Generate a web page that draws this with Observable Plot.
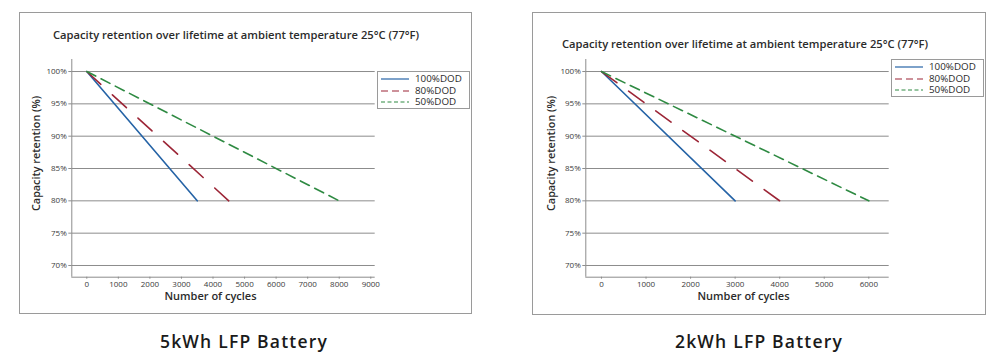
<!DOCTYPE html>
<html>
<head>
<meta charset="utf-8">
<script src="https://cdn.jsdelivr.net/npm/d3@7"></script>
<script src="https://cdn.jsdelivr.net/npm/@observablehq/plot@0.6"></script>
<style>
  html, body { margin: 0; padding: 0; background: #fff; }
  body { width: 1003px; height: 356px; position: relative; overflow: hidden; font-family: "Open Sans", "DejaVu Sans", sans-serif; }
  .panel { position: absolute; border: 1.5px solid #9a9a9a; box-sizing: border-box; }
  .title { position: absolute; font-size: 11.2px; font-weight: 600; color: #2b2b2b; white-space: nowrap; line-height: 1; }
  .caption { position: absolute; font-size: 17.5px; font-weight: 600; letter-spacing: 1.2px; color: #1a1a1a; white-space: nowrap; line-height: 1; transform: translateX(-50%); }
  .legend { position: absolute; border: 1.5px solid #9a9a9a; box-sizing: border-box; background: #fff; padding: 1px 0 0 3px; }
  .legend .row { display: flex; align-items: center; height: 11.7px; line-height: 11.7px; font-size: 9.8px; color: #2b2b2b; }
  .legend svg { margin-right: 6px; flex: none; }
  .plotwrap { position: absolute; }
  .plotwrap svg { overflow: visible; }
</style>
</head>
<body>
<script>
// ---- data ----
const seriesNames = ["100%DOD", "80%DOD", "50%DOD"];
const startCycles = 0;
const startRetention = 100;
const endRetention = 80;
const endCycles5kWh = [3500, 4500, 8000];
const endCycles2kWh = [3000, 4000, 6000];
const yTickValues = [70, 75, 80, 85, 90, 95, 100];
const xTicks5kWh = [0, 1000, 2000, 3000, 4000, 5000, 6000, 7000, 8000, 9000];
const xTicks2kWh = [0, 1000, 2000, 3000, 4000, 5000, 6000];
const chartTitle = "Capacity retention over lifetime at ambient temperature 25°C (77°F)";
const yLabel = "Capacity retention (%)";
const xLabel = "Number of cycles";
const captions = ["5kWh LFP Battery", "2kWh LFP Battery"];

// ---- styles ----
const seriesColors = ["#2563a6", "#9c2536", "#2e8a42"];
const legendDash = [null, "7,4", "4,2.5"];

function buildRows(endCycles) {
  return seriesNames.map((name, i) => [
    {series: name, cycles: startCycles, retention: startRetention},
    {series: name, cycles: endCycles[i], retention: endRetention}
  ]);
}

function makeChart(cfg) {
  const rows = buildRows(cfg.endCycles);
  const yDomain = [68.19, 101.86];
  const marks = [
    Plot.gridY(yTickValues, {stroke: "#8c8c8c", strokeOpacity: 1, strokeWidth: 1}),
    Plot.axisY(yTickValues, {tickFormat: d => d + "%", tickSize: 3, tickPadding: 2, fontSize: 8, fill: "#3a3a3a", stroke: "#8c8c8c", label: null}),
    Plot.axisX(cfg.xTicks, {tickFormat: d => String(d), tickSize: 2, tickPadding: 2, fontSize: 8, fill: "#3a3a3a", stroke: "#8c8c8c", label: null}),
    Plot.ruleX([cfg.xDomain[0]], {stroke: "#8c8c8c", strokeWidth: 1}),
    Plot.ruleY([yDomain[0]], {stroke: "#8c8c8c", strokeWidth: 1}),
    ...rows.map((r, i) => Plot.line(r, {
      x: "cycles", y: "retention",
      stroke: seriesColors[i], strokeWidth: 1.6,
      strokeDasharray: cfg.dash[i] || undefined
    })),
    Plot.text([yLabel], {frameAnchor: "left", textAnchor: "middle", rotate: -90, dx: cfg.yLabelDx, dy: -15, fontSize: 10.8, fontWeight: 600, fill: "#2b2b2b"}),
    Plot.text([xLabel], {frameAnchor: "bottom", textAnchor: "middle", dx: cfg.xLabelDx, dy: 23, fontSize: 11, fontWeight: 600, fill: "#2b2b2b"})
  ];
  return Plot.plot({
    width: cfg.width,
    height: cfg.height,
    marginLeft: cfg.marginLeft,
    marginRight: cfg.marginRight,
    marginTop: cfg.marginTop,
    marginBottom: cfg.marginBottom,
    x: {domain: cfg.xDomain, axis: null},
    y: {domain: yDomain, axis: null},
    style: {background: "transparent", fontFamily: "'Open Sans', 'DejaVu Sans', sans-serif", overflow: "visible"},
    marks
  });
}

function addDiv(cls, css, text) {
  const d = document.createElement("div");
  d.className = cls;
  Object.assign(d.style, css);
  if (text != null) d.textContent = text;
  document.body.appendChild(d);
  return d;
}

function addLegend(css) {
  const box = addDiv("legend", css);
  seriesNames.forEach((name, i) => {
    const row = document.createElement("div");
    row.className = "row";
    const ns = "http://www.w3.org/2000/svg";
    const s = document.createElementNS(ns, "svg");
    s.setAttribute("width", 28); s.setAttribute("height", 6);
    const l = document.createElementNS(ns, "line");
    l.setAttribute("x1", 0); l.setAttribute("x2", 28); l.setAttribute("y1", 3); l.setAttribute("y2", 3);
    l.setAttribute("stroke", seriesColors[i]); l.setAttribute("stroke-width", 1.2);
    if (legendDash[i]) l.setAttribute("stroke-dasharray", legendDash[i]);
    s.appendChild(l);
    row.appendChild(s);
    const t = document.createElement("span");
    t.textContent = name;
    row.appendChild(t);
    box.appendChild(row);
  });
}

const panels = [
  {
    box: {left: "19px", top: "12px", width: "453px", height: "302px"},
    title: {left: "53px", top: "29px"},
    legend: {left: "377px", top: "71px", width: "93px", height: "38px"},
    caption: {left: "244px", top: "333px"},
    plotPos: {left: "20px", top: "50px"},
    cfg: {endCycles: endCycles5kWh, xTicks: xTicks5kWh, xDomain: [-475, 9140], width: 370, height: 262,
          dash: [null, "19,15.6", "10,6"],
          marginLeft: 51.3, marginRight: 15.3, marginTop: 9, marginBottom: 35.3, yLabelDx: -35.3, xLabelDx: -13}
  },
  {
    box: {left: "532px", top: "12px", width: "454px", height: "303px"},
    title: {left: "562px", top: "38px"},
    legend: {left: "891px", top: "59px", width: "93px", height: "38px"},
    caption: {left: "759px", top: "333px"},
    plotPos: {left: "533px", top: "50px"},
    cfg: {endCycles: endCycles2kWh, xTicks: xTicks2kWh, xDomain: [-352, 6458], width: 370, height: 262,
          dash: [null, "19,14.5", "10,6"],
          marginLeft: 52.3, marginRight: 14.3, marginTop: 9, marginBottom: 35.3, yLabelDx: -34.6, xLabelDx: 6}
  }
];

panels.forEach((p, idx) => {
  addDiv("panel", p.box);
  addDiv("title", p.title, chartTitle);
  const wrap = addDiv("plotwrap", p.plotPos);
  wrap.appendChild(makeChart(p.cfg));
  addLegend(p.legend);
  addDiv("caption", p.caption, captions[idx]);
});
</script>
</body>
</html>
